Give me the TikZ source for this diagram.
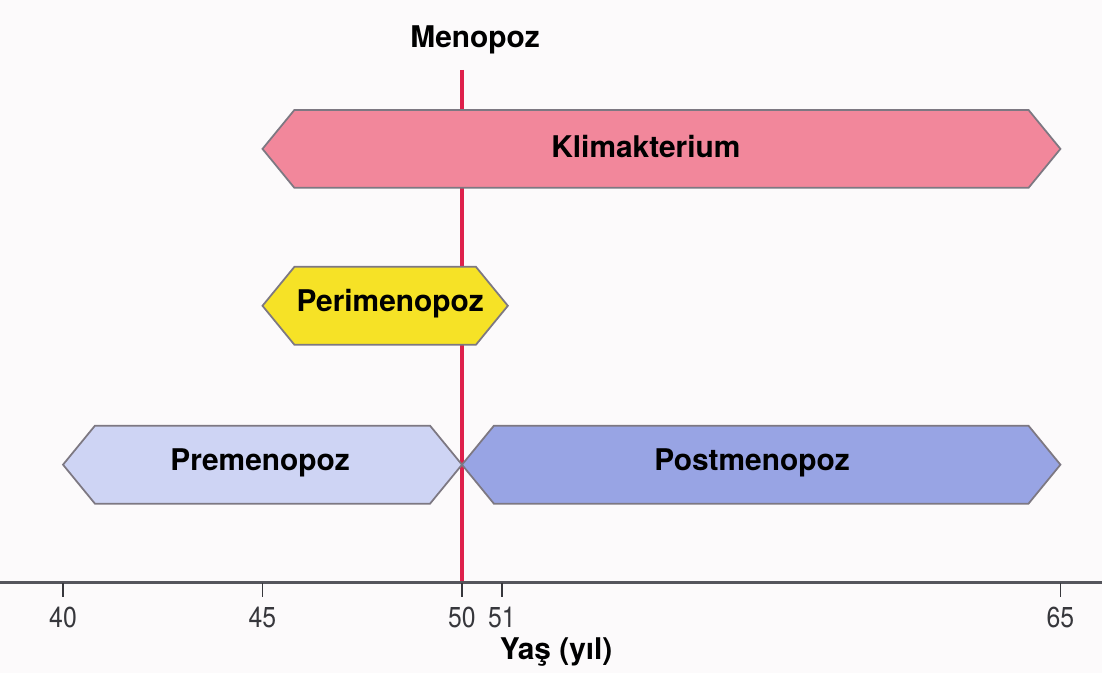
\documentclass[tikz,border=0pt]{standalone}
\usepackage{fontspec}
\setmainfont{TeX Gyre Heros}
\newfontfamily\ticksfont{TeX Gyre Heros}[FakeStretch=0.86]
\definecolor{colorPaper}{RGB}{252,250,251}
\definecolor{colorEdge}{RGB}{125,120,130}
\definecolor{colorAxis}{RGB}{85,85,92}
\definecolor{colorTick}{RGB}{55,55,60}
\definecolor{colorMeno}{RGB}{222,32,75}
\definecolor{colorKlim}{RGB}{242,135,155}
\definecolor{colorPeri}{RGB}{246,226,38}
\definecolor{colorPre}{RGB}{206,212,244}
\definecolor{colorPost}{RGB}{152,164,228}
\usetikzlibrary{positioning}
% hexagon band: name, from, to, mid y, colour, label x, text
\newcommand\phaseband[7]{%
  \draw[band, fill=#5] (#2,#4) -- (#2+0.8,#4-39) -- (#3-0.8,#4-39) -- (#3,#4)
    -- (#3-0.8,#4+39) -- (#2+0.8,#4+39) -- cycle;
  \node[bandlabel] (#1) at (#6,#4-2) {#7};}

\begin{document}
\begin{tikzpicture}[x=0.399cm, y=-0.01cm,
  band/.style={draw=colorEdge, line width=0.5pt},
  bandlabel/.style={font=\fontsize{8.5}{10}\selectfont\bfseries},
  ticklabel/.style={font=\ticksfont\fontsize{8.2}{9}\selectfont, text=colorTick}]
\fill[colorPaper] (38.421,0) rectangle (66.043,673);
\useasboundingbox (38.421,0) rectangle (66.043,673);
\node[bandlabel] (meno) at (50.33,40) {Menopoz};
\coordinate (menotop) at (50,70);
\coordinate (menobot) at (50,583);
\draw[colorMeno, line width=0.9pt] (menotop) -- (menobot);
\phaseband{klim}{45}{65}{149}{colorKlim}{54.61}{Klimakterium}
\phaseband{peri}{45}{51.15}{306}{colorPeri}{48.2}{Perimenopoz}
\phaseband{pre}{40}{50}{465}{colorPre}{44.94}{Premenopoz}
\phaseband{post}{50}{65}{465}{colorPost}{57.27}{Postmenopoz}
% age axis
\coordinate (axl) at (38.421,583);
\coordinate (axr) at (66.043,583);
\draw[colorAxis, line width=0.7pt] (axl) -- (axr);
\foreach \yr in {40,45,50,51,65}{
  \draw[colorTick, line width=0.4pt] (\yr,583) -- (\yr,597);
  \node[ticklabel] (tick\yr) at (\yr,618) {\yr};
}
\node[bandlabel] (age) at (52.36,652) {Yaş (yıl)};
\end{tikzpicture}
\end{document}
